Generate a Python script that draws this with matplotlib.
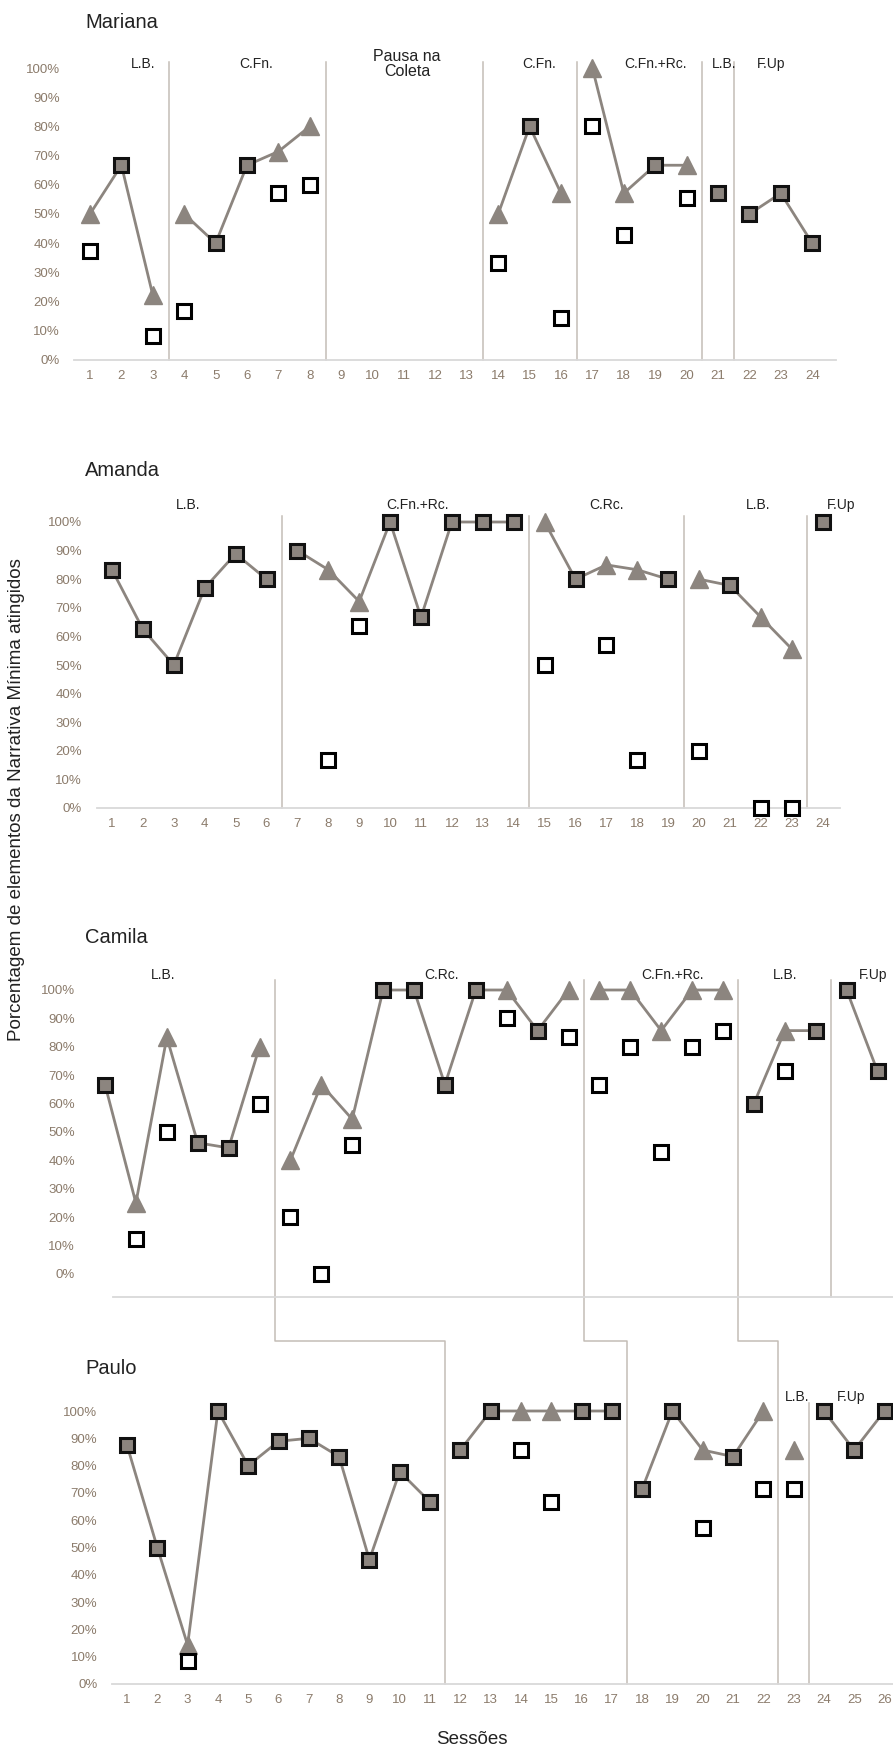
import numpy as np
import matplotlib
matplotlib.use("Agg")
import matplotlib.pyplot as plt
from matplotlib import font_manager

nan = np.nan

# ---------------- data (percent of Minimal Narrative elements per session) ----------------
mariana_sessions = list(range(1, 25))
mariana_tri = [50, 66.7, 22.2, 50, 40, 66.7, 71.4, 80, nan, nan, nan, nan, nan,
               50, 80, 57.1, 100, 57.1, 66.7, 66.7, 57.1, 50, 57.1, 40]
mariana_sq = [37.5, 66.7, 8.3, 16.7, 40, 66.7, 57.1, 60, nan, nan, nan, nan, nan,
              33.3, 80, 14.3, 80, 42.9, 66.7, 55.6, 57.1, 50, 57.1, 40]
mariana_cuts = [3.5, 8.5, 13.5, 16.5, 20.5, 21.5]
mariana_phase_names = ["L.B.", "C.Fn.", "Pausa na\nColeta", "C.Fn.", "C.Fn.+Rc.", "L.B.", "F.Up"]
mariana_phase_at = [2.7, 6.3, 11.1, 15.3, 19.0, 21.2, 22.7]

amanda_sessions = list(range(1, 25))
amanda_tri = [83.3, 62.5, 50, 76.9, 88.9, 80, 90, 83.3, 72.2, 100, 66.7, 100, 100, 100,
              100, 80, 85, 83.3, 80, 80, 77.8, 66.7, 55.6, 100]
amanda_sq = [83.3, 62.5, 50, 76.9, 88.9, 80, 90, 16.7, 63.6, 100, 66.7, 100, 100, 100,
             50, 80, 57.1, 16.7, 80, 20, 77.8, 0, 0, 100]
amanda_cuts = [6.5, 14.5, 19.5, 23.5]
amanda_phase_names = ["L.B.", "C.Fn.+Rc.", "C.Rc.", "L.B.", "F.Up"]
amanda_phase_at = [3.46, 10.9, 17.0, 21.9, 24.6]

camila_sessions = list(range(1, 27))
camila_tri = [66.7, 25, 83.3, 46.2, 44.4, 80, 40, 66.7, 54.5, 100, 100, 66.7, 100,
              100, 85.7, 100, 100, 100, 85.7, 100, 100, 60, 85.7, 85.7, 100, 71.4]
camila_sq = [66.7, 12.5, 50, 46.2, 44.4, 60, 20, 0, 45.5, 100, 100, 66.7, 100,
             90, 85.7, 83.3, 66.7, 80, 42.9, 80, 85.7, 60, 71.4, 85.7, 100, 71.4]
camila_cuts = [6.5, 16.5, 21.5, 24.5]
camila_phase_names = ["L.B.", "C.Rc.", "C.Fn.+Rc.", "L.B.", "F.Up"]
camila_phase_at = [2.88, 11.9, 19.35, 23.0, 25.85]

paulo_sessions = list(range(1, 27))
paulo_tri = [87.5, 50, 14.3, 100, 80, 88.9, 90, 83.3, 45.5, 77.8, 66.7, 85.7, 100,
             100, 100, 100, 100, 71.4, 100, 85.7, 83.3, 100, 85.7, 100, 85.7, 100]
paulo_sq = [87.5, 50, 8.3, 100, 80, 88.9, 90, 83.3, 45.5, 77.8, 66.7, 85.7, 100,
            85.7, 66.7, 100, 100, 71.4, 100, 57.1, 83.3, 71.4, 71.4, 100, 85.7, 100]
paulo_cuts = [11.5, 17.5, 22.5, 23.5]
paulo_phase_names = ["L.B.", "F.Up"]
paulo_phase_at = [23.1, 24.9]

y_ticks = list(range(0, 101, 10))
y_tick_labels = [f"{v}%" for v in y_ticks]

# ---------------- styling ----------------
TRI = "#8c857f"
LINE = "#8c857f"
PHASE = "#c4bdb6"
AXIS = "#d9d9d9"
TICK = "#8b7b6b"
TEXT = "#222222"


def pick_family(names):
    available = {f.name for f in font_manager.fontManager.ttflist}
    found = [n for n in names if n in available]
    return found + ["DejaVu Sans"] if found else ["DejaVu Sans"]


MAIN_FONT = pick_family(["Liberation Sans", "Arial"])
TICK_FONT = pick_family(["Liberation Sans Narrow", "Liberation Sans"])
plt.rcParams["font.family"] = MAIN_FONT

W, H = 893, 1750
fig = plt.figure(figsize=(W / 100, H / 100), dpi=100)
fig.patch.set_facecolor("white")

overlay = fig.add_axes([0, 0, 1, 1], zorder=0)
overlay.set_xlim(0, W)
overlay.set_ylim(H, 0)
overlay.axis("off")

# panel geometry in pixels: first-session x, session spacing, 0% y, 100% y, session limits
GEOM = {
    "Mariana": (90, 31.4, 360, 68, (0.5, 24.75)),
    "Amanda": (112, 30.9, 808, 522, (0.5, 24.55)),
    "Camila": (105, 30.9, 1274, 990, (0.5, 26.5)),
    "Paulo": (127, 30.3, 1684, 1411, (0.5, 26.5)),
}
TITLE_Y = {"Mariana": 22, "Amanda": 470, "Camila": 937, "Paulo": 1368}


def px_x(name, s):
    x1, dx, *_ = GEOM[name]
    return x1 + (s - 1) * dx


def px_y(name, v):
    _, _, y0, y100, _ = GEOM[name]
    return y0 - (y0 - y100) * v / 100.0


def add_panel(name):
    x1, dx, y0, y100, (xa, xb) = GEOM[name]
    left = x1 + (xa - 1) * dx
    right = x1 + (xb - 1) * dx
    ax = fig.add_axes([left / W, 1 - y0 / H, (right - left) / W, (y0 - y100) / H], zorder=2)
    ax.set_xlim(xa, xb)
    ax.set_ylim(0, 100)
    ax.patch.set_visible(False)
    for sp in ax.spines.values():
        sp.set_visible(False)
    ax.spines["bottom"].set_visible(True)
    ax.spines["bottom"].set_color(AXIS)
    ax.spines["bottom"].set_linewidth(1.3)
    ax.set_yticks(y_ticks)
    ax.set_yticklabels(y_tick_labels, family=TICK_FONT)
    ax.tick_params(axis="y", length=0, pad=10.4, labelsize=9.5, labelcolor=TICK)
    ax.tick_params(axis="x", length=0, pad=7, labelsize=9.5, labelcolor=TICK)
    fig.text(85 / W, 1 - TITLE_Y[name] / H, name, ha="left", va="center",
             fontsize=14.5, color=TEXT)
    return ax


def draw_series(ax, sessions, tri, sq, cuts):
    s = np.asarray(sessions, float)
    a = np.asarray(tri, float)
    b = np.asarray(sq, float)
    phase = np.searchsorted(cuts, s)
    for p in np.unique(phase):
        m = phase == p
        ax.plot(s[m], a[m], color=LINE, lw=2.0, zorder=2, clip_on=False)
    same = np.isclose(a, b)
    ax.plot(s[~same], a[~same], ls="none", marker="^", ms=13, color=TRI, mec=TRI,
            zorder=3, clip_on=False)
    ax.plot(s[~same], b[~same], ls="none", marker="s", ms=10.5, mfc="white",
            mec="black", mew=2.2, zorder=4, clip_on=False)
    ax.plot(s[same], b[same], ls="none", marker="s", ms=10.5, mfc=TRI,
            mec="#111111", mew=2.2, zorder=4, clip_on=False)


def phase_labels(ax, names, at, y):
    for t, x in zip(names, at):
        fs = 11.5 if "\n" in t else 10
        ax.text(x, y, t, ha="center", va="center", fontsize=fs, color=TEXT,
                clip_on=False, linespacing=1.0)


def vline(x, ytop, ybot):
    overlay.plot([x, x], [ytop, ybot], color=PHASE, lw=1.1)


# ---------------- Mariana ----------------
ax_m = add_panel("Mariana")
draw_series(ax_m, mariana_sessions, mariana_tri, mariana_sq, mariana_cuts)
ax_m.set_xticks(mariana_sessions)
ax_m.set_xticklabels(mariana_sessions, family=TICK_FONT)
phase_labels(ax_m, mariana_phase_names, mariana_phase_at, 101.5)
for c in mariana_cuts:
    vline(px_x("Mariana", c), px_y("Mariana", 102), px_y("Mariana", 0))

# ---------------- Amanda ----------------
ax_a = add_panel("Amanda")
draw_series(ax_a, amanda_sessions, amanda_tri, amanda_sq, amanda_cuts)
ax_a.set_xticks(amanda_sessions)
ax_a.set_xticklabels(amanda_sessions, family=TICK_FONT)
phase_labels(ax_a, amanda_phase_names, amanda_phase_at, 106)
for c in amanda_cuts:
    vline(px_x("Amanda", c), px_y("Amanda", 102), px_y("Amanda", 0))

# ---------------- Camila ----------------
ax_c = add_panel("Camila")
draw_series(ax_c, camila_sessions, camila_tri, camila_sq, camila_cuts)
ax_c.set_xticks([])
CAMILA_BASE = -8.1
ax_c.spines["bottom"].set_position(("data", CAMILA_BASE))
ax_c.spines["bottom"].set_bounds(1.26, 26.5)
phase_labels(ax_c, camila_phase_names, camila_phase_at, 105.3)

# ---------------- Paulo ----------------
ax_p = add_panel("Paulo")
draw_series(ax_p, paulo_sessions, paulo_tri, paulo_sq, paulo_cuts)
ax_p.set_xticks(paulo_sessions)
ax_p.set_xticklabels(paulo_sessions, family=TICK_FONT)
phase_labels(ax_p, paulo_phase_names, paulo_phase_at, 105.1)

# stepped phase-change lines running from Camila down into Paulo
STEP_Y = 1341
for cc, pc in zip(camila_cuts[:3], paulo_cuts[:3]):
    xc, xp = px_x("Camila", cc), px_x("Paulo", pc)
    overlay.plot([xc, xc, xp, xp],
                 [px_y("Camila", 103.5), STEP_Y, STEP_Y, px_y("Paulo", 0)],
                 color=PHASE, lw=1.1)
vline(px_x("Camila", camila_cuts[3]), px_y("Camila", 103.5), px_y("Camila", CAMILA_BASE))
vline(px_x("Paulo", paulo_cuts[3]), px_y("Paulo", 103), px_y("Paulo", 0))

# ---------------- shared axis titles ----------------
fig.text(17 / W, 1 - 800 / H, "Porcentagem de elementos da Narrativa Mínima atingidos",
         rotation=90, ha="center", va="center", fontsize=13.5, color=TEXT)
fig.text(472 / W, 1 - 1740 / H, "Sessões", ha="center", va="center",
         fontsize=13.5, color=TEXT)

fig.savefig("out.png", dpi=100, facecolor="white")
